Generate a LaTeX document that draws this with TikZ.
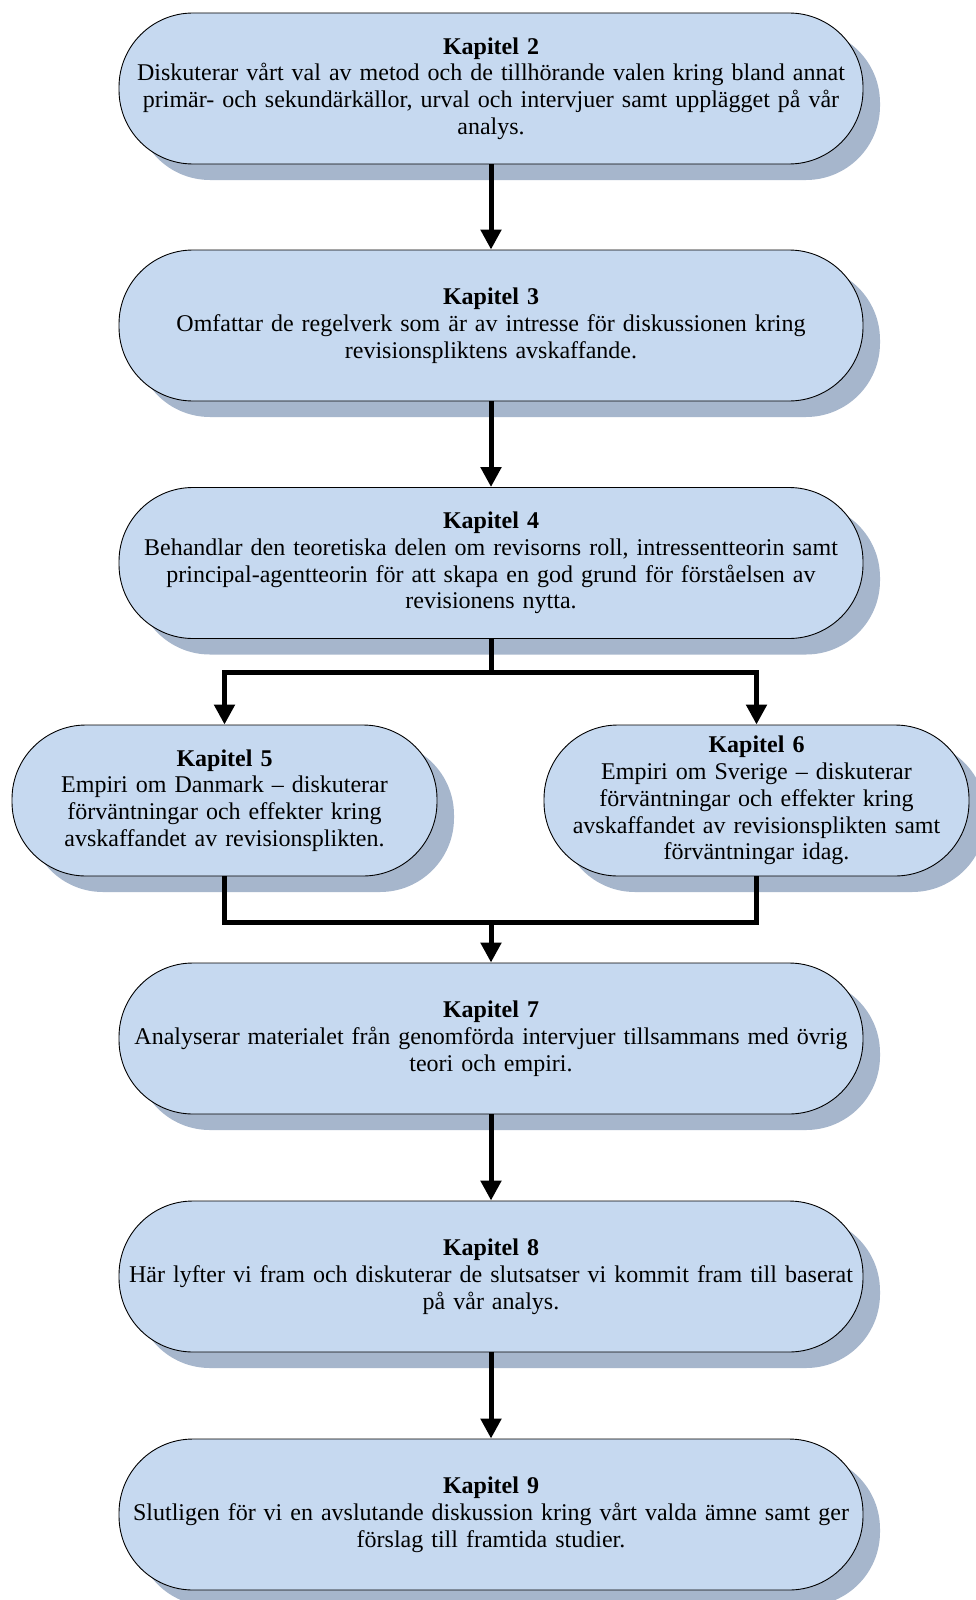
\documentclass[tikz,border=0pt]{standalone}
\usepackage{fontspec}
\setmainfont{Liberation Serif}
\usetikzlibrary{arrows.meta,shadows}
\definecolor{boxfill}{RGB}{198,217,240}
\definecolor{shadowc}{RGB}{166,182,204}
\begin{document}
\begin{tikzpicture}[x=1pt,y=-1pt,
  chap/.style={draw=black, line width=0.9pt, fill=boxfill, rounded corners=74pt,
    minimum height=151pt, inner sep=0pt, align=center,
    font=\fontsize{24}{26.8}\selectfont,
    general shadow={fill=shadowc, shadow xshift=17pt, shadow yshift=-16pt}},
  wide/.style={chap, minimum width=744pt, text width=744pt},
  half/.style={chap, minimum width=425pt, text width=425pt},
  conn/.style={line width=5pt, line join=miter},
  arr/.style={conn, -{Triangle[width=20pt,length=20pt]}}]
\clip (0,0) rectangle (976,1600);
\fill[white] (0,0) rectangle (976,1600);
\node[wide] (k2) at (491,88.5) {\textbf{Kapitel 2}\\Diskuterar vårt val av metod och de tillhörande valen kring bland annat\\primär- och sekundärkällor, urval och intervjuer samt upplägget på vår\\analys.};
\node[wide] (k3) at (491,325.5) {\textbf{Kapitel 3}\\Omfattar de regelverk som är av intresse för diskussionen kring\\revisionspliktens avskaffande.};
\node[wide] (k4) at (491,563) {\textbf{Kapitel 4}\\Behandlar den teoretiska delen om revisorns roll, intressentteorin samt\\principal-agentteorin för att skapa en god grund för förståelsen av\\revisionens nytta.};
\node[half] (k5) at (224.5,800.5) {\textbf{Kapitel 5}\\Empiri om Danmark – diskuterar\\förväntningar och effekter kring\\avskaffandet av revisionsplikten.};
\node[half] (k6) at (756.5,800.5) {\textbf{Kapitel 6}\\Empiri om Sverige – diskuterar\\förväntningar och effekter kring\\avskaffandet av revisionsplikten samt\\förväntningar idag.};
\node[wide] (k7) at (491,1038.5) {\textbf{Kapitel 7}\\Analyserar materialet från genomförda intervjuer tillsammans med övrig\\teori och empiri.};
\node[wide] (k8) at (491,1276.5) {\textbf{Kapitel 8}\\Här lyfter vi fram och diskuterar de slutsatser vi kommit fram till baserat\\på vår analys.};
\node[wide] (k9) at (491,1514.5) {\textbf{Kapitel 9}\\Slutligen för vi en avslutande diskussion kring vårt valda ämne samt ger\\förslag till framtida studier.};
\coordinate (split) at (491,672);
\coordinate (merge) at (491,922);
\draw[arr] (k2.south) -- (k3.north);
\draw[arr] (k3.south) -- (k4.north);
\draw[arr] (k4.south) -- (split) -| (k5.north);
\draw[arr] (split) -| (k6.north);
\draw[conn] (k5.south) |- (merge);
\draw[conn] (k6.south) |- (merge);
\draw[arr] (merge) -- (k7.north);
\draw[arr] (k7.south) -- (k8.north);
\draw[arr] (k8.south) -- (k9.north);
\end{tikzpicture}
\end{document}
